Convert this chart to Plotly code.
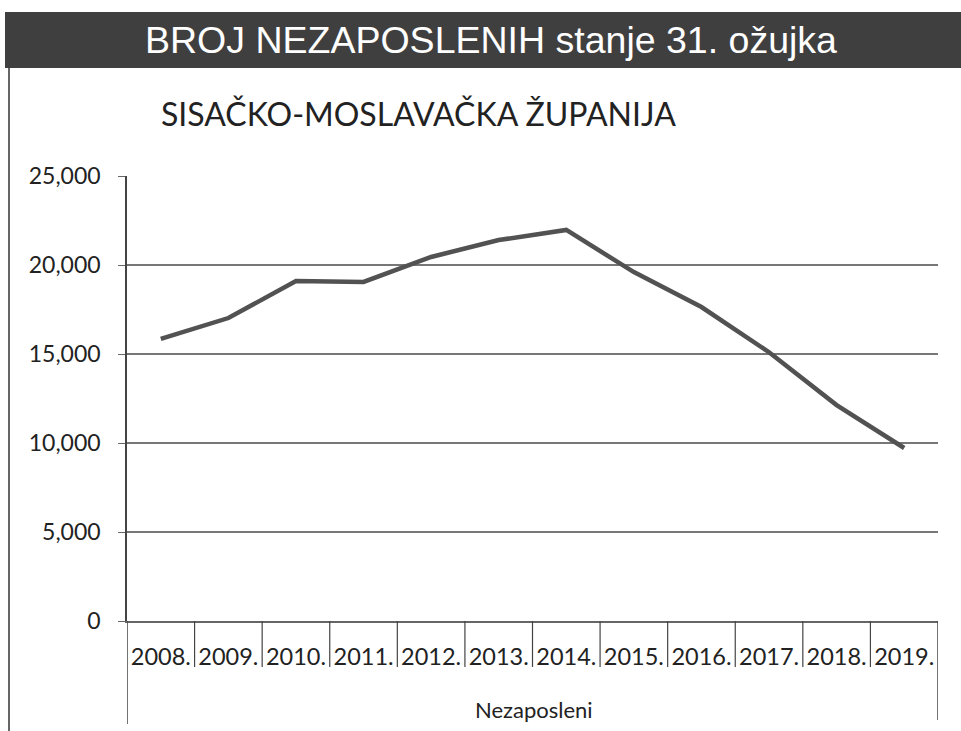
import plotly.graph_objects as go

years = ["2008.", "2009.", "2010.", "2011.", "2012.", "2013.", "2014.",
         "2015.", "2016.", "2017.", "2018.", "2019."]
nezaposleni = [15850, 17020, 19100, 19050, 20450, 21400, 21970,
               19600, 17640, 15100, 12130, 9720]
y_ticks = [0, 5000, 10000, 15000, 20000, 25000]
y_ticktext = ["0", "5,000", "10,000", "15,000", "20,000", "25,000"]

W, H = 961, 731
L, R, T, B = 127, 23, 176, 110
pw, ph = W - L - R, H - T - B

def px(x):
    return (x - L) / pw

def py(y):
    return (H - B - y) / ph

FONT = "Lato, Open Sans, sans-serif"

fig = go.Figure()
xs = list(range(len(years)))
fig.add_trace(go.Scatter(x=xs, y=nezaposleni, mode="lines",
                         line=dict(color="#525252", width=4.5),
                         hoverinfo="y", showlegend=False))

shapes = []
# header bar
shapes.append(dict(type="rect", xref="paper", yref="paper",
                   x0=px(5), x1=px(961), y0=py(68), y1=py(12),
                   fillcolor="#3f3f3f", line=dict(width=0), layer="below"))
# left frame line
shapes.append(dict(type="line", xref="paper", yref="paper",
                   x0=px(9), x1=px(9), y0=py(68), y1=py(731),
                   line=dict(color="#333333", width=1.5)))
# category separators
for i in range(1, len(years)):
    shapes.append(dict(type="line", xref="x", yref="paper",
                       x0=i - 0.5, x1=i - 0.5, y0=0, y1=py(667),
                       line=dict(color="#444444", width=1.2)))
# outer verticals
shapes.append(dict(type="line", xref="x", yref="paper",
                   x0=-0.5, x1=-0.5, y0=0, y1=py(724),
                   line=dict(color="#444444", width=1.5)))
shapes.append(dict(type="line", xref="x", yref="paper",
                   x0=len(years) - 0.5, x1=len(years) - 0.5, y0=0, y1=py(720),
                   line=dict(color="#444444", width=1.5)))
fig.update_layout(shapes=shapes)

annotations = [
    dict(text="BROJ NEZAPOSLENIH stanje 31. ožujka", xref="paper", yref="paper",
         x=px(491), y=py(40), xanchor="center", yanchor="middle", showarrow=False,
         font=dict(family="Liberation Sans, Arial", size=37.5, color="white")),
    dict(text="SISAČKO-MOSLAVAČKA ŽUPANIJA", xref="paper", yref="paper",
         x=px(418), y=py(114), xanchor="center", yanchor="middle", showarrow=False,
         font=dict(family=FONT, size=32, color="#222222")),
    dict(text="Nezaposleni", xref="paper", yref="paper",
         x=px(534), y=py(709), xanchor="center", yanchor="middle", showarrow=False,
         font=dict(family=FONT, size=22, color="#222222")),
]
fig.update_layout(annotations=annotations)

fig.update_xaxes(range=[-0.5, len(years) - 0.5], tickmode="array",
                 tickvals=xs, ticktext=years, showgrid=False, zeroline=False,
                 showline=True, linecolor="#666666", linewidth=1.5,
                 ticks="", ticklabelstandoff=14,
                 tickfont=dict(family=FONT, size=23.5, color="#222222"))
fig.update_yaxes(range=[0, 25000], tickmode="array", tickvals=y_ticks,
                 ticktext=y_ticktext, showgrid=True, gridcolor="#777777", gridwidth=1.5,
                 zeroline=False, showline=True, linecolor="#444444", linewidth=1.5,
                 ticks="outside", ticklen=7, tickcolor="#666666", ticklabelstandoff=13,
                 tickfont=dict(family=FONT, size=23, color="#222222"))

fig.update_layout(width=W, height=H, margin=dict(l=L, r=R, t=T, b=B),
                  paper_bgcolor="white", plot_bgcolor="white")

fig.write_html("out.html", config={"displayModeBar": False},
               post_script="document.body.style.margin='0';")
